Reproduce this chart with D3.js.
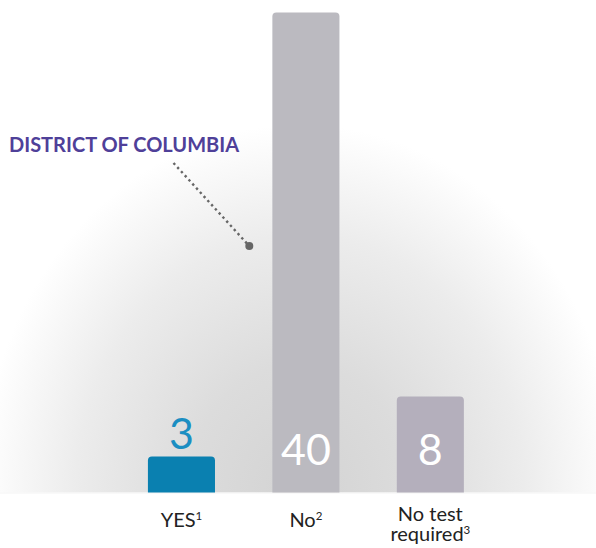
<!DOCTYPE html>
<html>
<head>
<meta charset="utf-8">
<script src="https://cdn.jsdelivr.net/npm/d3@7"></script>
<style>
  html, body { margin: 0; padding: 0; background: #fff; }
  svg { display: block; font-family: Lato, "Open Sans", sans-serif; }
</style>
</head>
<body>
<div id="chart"></div>
<script>
// categories and values
const categories = ["YES", "No", "No test required"];
const values = [3, 40, 8];
const labelLines = [["YES"], ["No"], ["No test", "required"]];
const footnotes = ["1", "2", "3"];
const barColors = ["#0a80b0", "#bbbac0", "#b4afbc"];
const valueColors = ["#1b8ec2", "#ffffff", "#ffffff"];

const annotation = "DISTRICT OF COLUMBIA";

const width = 596, height = 548;
const baseY = 492.5;

const svg = d3.select("#chart").append("svg")
  .attr("width", width)
  .attr("height", height);

// soft grey glow behind the bars
const defs = svg.append("defs");
const grad = defs.append("radialGradient")
  .attr("id", "glow")
  .attr("gradientUnits", "userSpaceOnUse")
  .attr("cx", 300).attr("cy", baseY).attr("r", 320)
  .attr("gradientTransform", `translate(300,${baseY}) scale(1,1.15) translate(-300,${-baseY})`);
grad.selectAll("stop")
  .data([[0, "#d3d3d3"], [0.35, "#dcdcdc"], [0.7, "#ececec"], [1, "#ffffff"]])
  .enter().append("stop")
  .attr("offset", d => d[0])
  .attr("stop-color", d => d[1]);

svg.append("rect")
  .attr("x", 0).attr("y", 0)
  .attr("width", width).attr("height", baseY)
  .attr("fill", "url(#glow)");

svg.append("line")
  .attr("x1", 0).attr("x2", width)
  .attr("y1", baseY + 0.5).attr("y2", baseY + 0.5)
  .attr("stroke", "#f4f4f4").attr("stroke-width", 1);

const x = d3.scaleBand()
  .domain(categories)
  .range([119.3, 492.5])
  .paddingInner(0.461)
  .paddingOuter(0.23);

const y = d3.scaleLinear()
  .domain([0, d3.max(values)])
  .range([baseY, 12.5]);

// bar with rounded top corners only
function barPath(x0, y0, w, h, r) {
  r = Math.min(r, h, w / 2);
  return `M${x0},${y0 + h}V${y0 + r}Q${x0},${y0} ${x0 + r},${y0}` +
    `H${x0 + w - r}Q${x0 + w},${y0} ${x0 + w},${y0 + r}V${y0 + h}Z`;
}

svg.selectAll(".bar")
  .data(values)
  .enter().append("path")
  .attr("class", "bar")
  .attr("d", (d, i) => barPath(x(categories[i]), y(d), x.bandwidth(), y(0) - y(d), 4))
  .attr("fill", (d, i) => barColors[i]);

// value inside the bar near its foot, or above it when the bar is short
const inside = d => y(0) - y(d) > 62;
svg.selectAll(".val")
  .data(values)
  .enter().append("text")
  .attr("class", "val")
  .attr("x", (d, i) => x(categories[i]) + x.bandwidth() / 2)
  .attr("y", d => inside(d) ? y(0) - 28 : y(d) - 8)
  .attr("text-anchor", "middle")
  .style("font-size", "43px")
  .style("fill", (d, i) => valueColors[i])
  .text(d => d);

// category labels with footnote markers
const cat = svg.selectAll(".cat")
  .data(categories)
  .enter().append("text")
  .attr("class", "cat")
  .attr("text-anchor", "middle")
  .style("font-size", "20px")
  .style("fill", "#222");

cat.each(function(d, i) {
  const t = d3.select(this);
  const cx = x(d) + x.bandwidth() / 2;
  const lines = labelLines[i];
  const y0 = lines.length > 1 ? 520.5 : 527;
  lines.forEach((ln, j) => {
    t.append("tspan")
      .attr("x", cx)
      .attr("y", y0 + j * 20.5)
      .text(ln);
    if (j === lines.length - 1) {
      t.append("tspan")
        .attr("dy", -7)
        .style("font-size", "11.5px")
        .text(footnotes[i]);
    }
  });
});

// annotation
svg.append("text")
  .attr("x", 9)
  .attr("y", 151.5)
  .style("font-size", "20px")
  .style("font-weight", 700)
  .style("fill", "#4f4099")
  .text(annotation);

svg.append("line")
  .attr("x1", 173.5).attr("y1", 163)
  .attr("x2", 247).attr("y2", 243.5)
  .attr("stroke", "#666")
  .attr("stroke-width", 2.4)
  .attr("stroke-dasharray", "2.4,3.2");

svg.append("circle")
  .attr("cx", 249.3).attr("cy", 246)
  .attr("r", 4)
  .attr("fill", "#666");
</script>
</body>
</html>
